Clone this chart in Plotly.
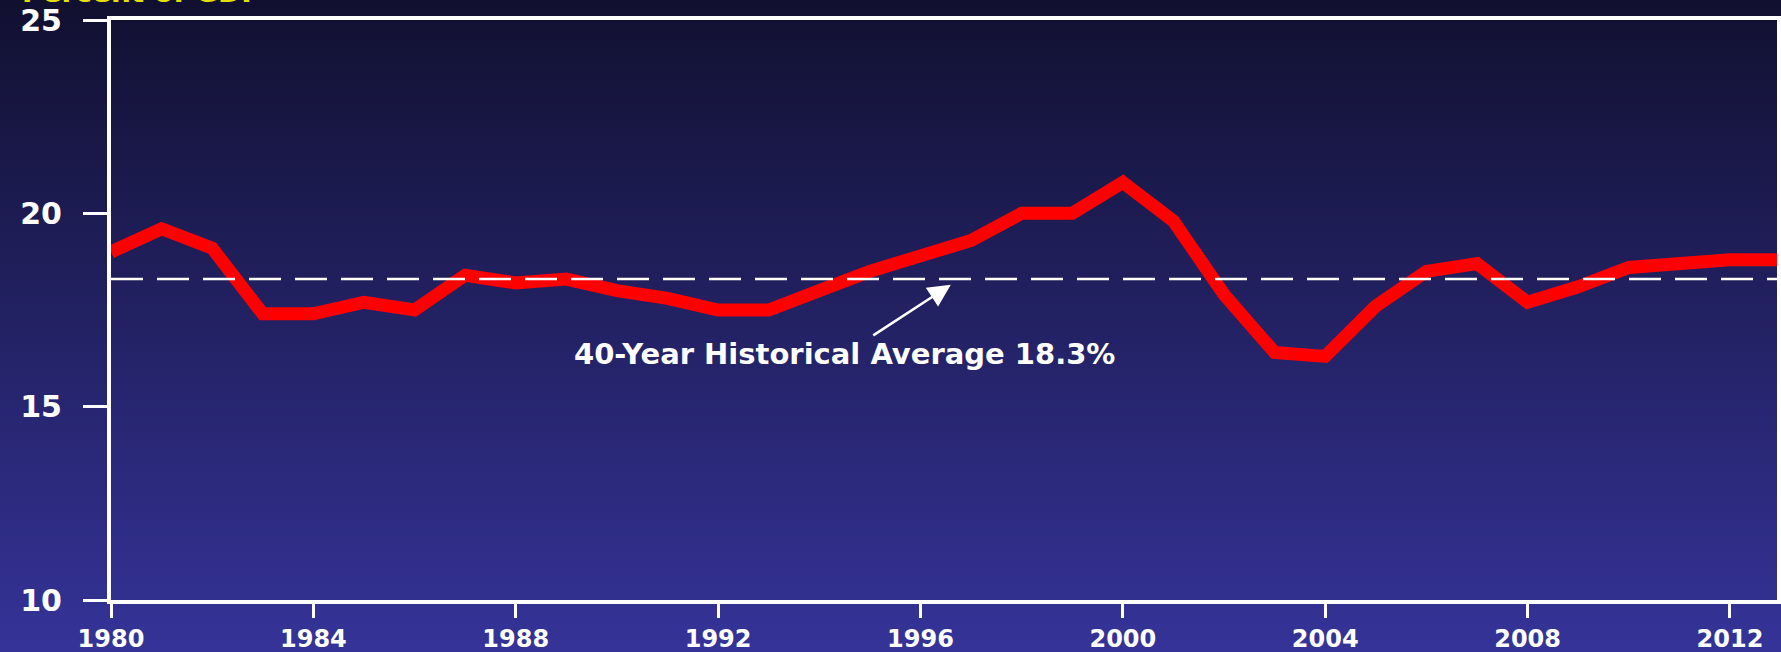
import plotly.graph_objects as go

# ---- data ----
years = list(range(1980, 2014))
revenue_pct_gdp = [19.0, 19.6, 19.1, 17.4, 17.4, 17.7, 17.5, 18.4, 18.2, 18.3,
                   18.0, 17.8, 17.5, 17.5, 18.0, 18.5, 18.9, 19.3, 20.0, 20.0,
                   20.8, 19.8, 17.9, 16.4, 16.3, 17.6, 18.5, 18.7, 17.7, 18.1,
                   18.6, 18.7, 18.8, 18.8]
historical_avg = 18.3
avg_label = "40-Year Historical Average 18.3%"
title_text = "Percent of GDP"
x_tickvals = list(range(1980, 2013, 4))
y_tickvals = [10, 15, 20, 25]

W, H = 1781, 652
ML, MR, MT, MB = 111, 4, 20, 52

fig = go.Figure()

fig.add_trace(go.Scatter(
    x=years, y=revenue_pct_gdp, mode="lines",
    line=dict(color="#ff0000", width=13),
    hoverinfo="skip", showlegend=False))

fig.add_trace(go.Scatter(
    x=[years[0], years[-1] + 1], y=[historical_avg, historical_avg], mode="lines",
    line=dict(color="white", width=2.5, dash="32px,14px"),
    hoverinfo="skip", showlegend=False))

# gradient background as stacked strips
plot_h = H - MT - MB
plot_w = W - ML - MR
top_rgb = (17, 16, 48)
bot_rgb = (53, 51, 152)
shapes = []
step = 8
for p in range(-16, H + 16, step):
    t = min(max((p + step / 2) / H, 0), 1)
    c = tuple(int(round(top_rgb[i] + (bot_rgb[i] - top_rgb[i]) * t)) for i in range(3))
    y0 = (H - MB - p) / plot_h
    y1 = (H - MB - (p + step + 1)) / plot_h
    shapes.append(dict(type="rect", xref="paper", yref="paper",
                       x0=-ML / plot_w - 0.02, x1=(W - ML) / plot_w + 0.02,
                       y0=y1, y1=y0, line=dict(width=0),
                       fillcolor="rgb(%d,%d,%d)" % c, layer="below"))

fnt = "DejaVu Sans, Arial, sans-serif"

fig.update_layout(
    width=W, height=H,
    autosize=False,
    margin=dict(l=ML, r=MR, t=MT, b=MB, autoexpand=False),
    paper_bgcolor="#23226a",
    plot_bgcolor="rgba(0,0,0,0)",
    shapes=shapes,
    showlegend=False,
    xaxis=dict(range=[1980, 2012.93], tickvals=x_tickvals,
               ticktext=[str(v) for v in x_tickvals],
               showgrid=False, zeroline=False, automargin=False,
               showline=True, linecolor="white", linewidth=4, mirror=True,
               ticks="outside", ticklen=14, tickwidth=3, tickcolor="white",
               ticklabelstandoff=0,
               tickfont=dict(family=fnt, size=24, color="white", weight="bold")),
    yaxis=dict(range=[10, 25], tickvals=y_tickvals,
               showgrid=False, zeroline=False, automargin=False,
               showline=True, linecolor="white", linewidth=4, mirror=True,
               ticks="outside", ticklen=24, tickwidth=3, tickcolor="white",
               ticklabelstandoff=15,
               tickfont=dict(family=fnt, size=30, color="white", weight="bold")),
    annotations=[
        dict(x=1996.6, y=18.15, xref="x", yref="y",
             text=avg_label, showarrow=True,
             ax=-106, ay=69, arrowhead=2, arrowsize=1.8, arrowwidth=2.5,
             arrowcolor="white",
             font=dict(family=fnt, size=29, color="white", weight="bold")),
        dict(x=(20 - ML) / plot_w, y=(H - MB - 11) / plot_h,
             xref="paper", yref="paper", xanchor="left", yanchor="bottom",
             text=title_text, showarrow=False,
             font=dict(family=fnt, size=28, color="#e6e000", weight="bold")),
    ],
)

fig.write_html(
    "out.html",
    config={"displayModeBar": False},
    post_script=(
        "var s=document.createElement('style');"
        "s.textContent='html,body{margin:0;padding:0;overflow:hidden;"
        "background:#11102f;width:1781px;height:652px;}';"
        "document.head.appendChild(s);"
    ),
)
